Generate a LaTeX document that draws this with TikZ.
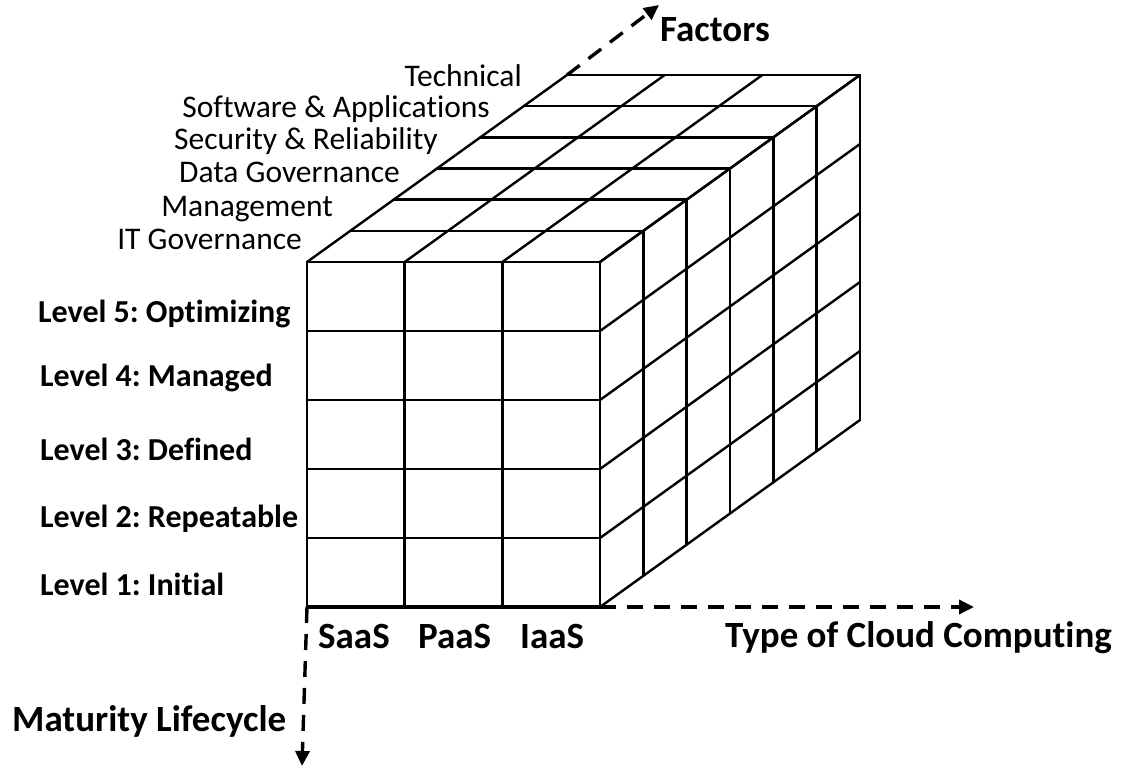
\documentclass[tikz,border=0pt]{standalone}
\usepackage{fontspec}
\setmainfont[Ligatures=NoCommon]{Carlito}
\usetikzlibrary{arrows.meta}
\frenchspacing
\begin{document}
\begin{tikzpicture}[x=1pt,y=-1pt,
  gridline/.style={line width=2.4pt, line cap=round, line join=round},
  axisarrow/.style={line width=3.4pt, dash pattern=on 16pt off 11pt, -{Triangle[length=15pt,width=14pt]}},
  lvl/.style={font=\bfseries\fontsize{32}{38}\selectfont, anchor=base west, inner sep=0pt},
  fac/.style={font=\fontsize{31.5}{37}\selectfont, anchor=base east, inner sep=0pt},
  axlab/.style={font=\bfseries\fontsize{37}{44}\selectfont, anchor=base west, inner sep=0pt}]
\useasboundingbox (0,0) rectangle (1125,767);
\def\cw{97.667}\def\rh{69}\def\ddx{43.333}\def\ddy{31.167}
% front face
\foreach \i in {0,...,3} \draw[gridline] ({307+\cw*\i},262) -- ({307+\cw*\i},607);
\foreach \j in {0,...,5} \draw[gridline] (307,{262+\rh*\j}) -- (600,{262+\rh*\j});
\draw[line width=3.6pt] (307,607) -- (600,607);
% top face
\foreach \i in {0,...,3} \draw[gridline] ({307+\cw*\i},262) -- ({307+\cw*\i+6*\ddx},{262-6*\ddy});
\foreach \k in {0,...,6} \draw[gridline] ({307+\ddx*\k},{262-\ddy*\k}) -- ({600+\ddx*\k},{262-\ddy*\k});
% right face
\foreach \k in {0,...,6} \draw[gridline] ({600+\ddx*\k},{262-\ddy*\k}) -- ({600+\ddx*\k},{607-\ddy*\k});
\foreach \j in {0,...,5} \draw[gridline] (600,{262+\rh*\j}) -- ({600+6*\ddx},{262+\rh*\j-6*\ddy});
% axes
\coordinate (O) at (307,607);
\coordinate (R) at (600,607);
\coordinate (B) at (567,75);
\coordinate (xtip) at (974,607);
\coordinate (ytip) at (302,766);
\coordinate (ztip) at (659,5);
\draw[axisarrow] (R) -- (xtip);
\draw[axisarrow] (O) -- (ytip);
\draw[axisarrow] (B) -- (ztip);
% labels
\node[lvl] (l5) at (38,323) {Level 5: Optimizing};
\node[lvl] (l4) at (40,387) {Level 4: Managed};
\node[lvl] (l3) at (40,460) {Level 3: Defined};
\node[lvl] (l2) at (40,527) {Level 2: Repeatable};
\node[lvl] (l1) at (40,595) {Level 1: Initial};
\node[fac] (f6) at (522,87) {Technical};
\node[fac] (f5) at (490,118) {Software \& Applications};
\node[fac] (f4) at (438,150) {Security \& Reliability};
\node[fac] (f3) at (400,183) {Data Governance};
\node[fac] (f2) at (333,217) {Management};
\node[fac] (f1) at (302,250) {IT Governance};
\node[axlab] (saas) at (318,648) {SaaS};
\node[axlab] (paas) at (418,648) {PaaS};
\node[axlab] (iaas) at (520,648) {IaaS};
\node[axlab] (xlab) at (725,647) {Type of Cloud Computing};
\node[axlab] (ylab) at (12,731) {Maturity Lifecycle};
\node[axlab] (zlab) at (660,42) {Factors};
\end{tikzpicture}
\end{document}
